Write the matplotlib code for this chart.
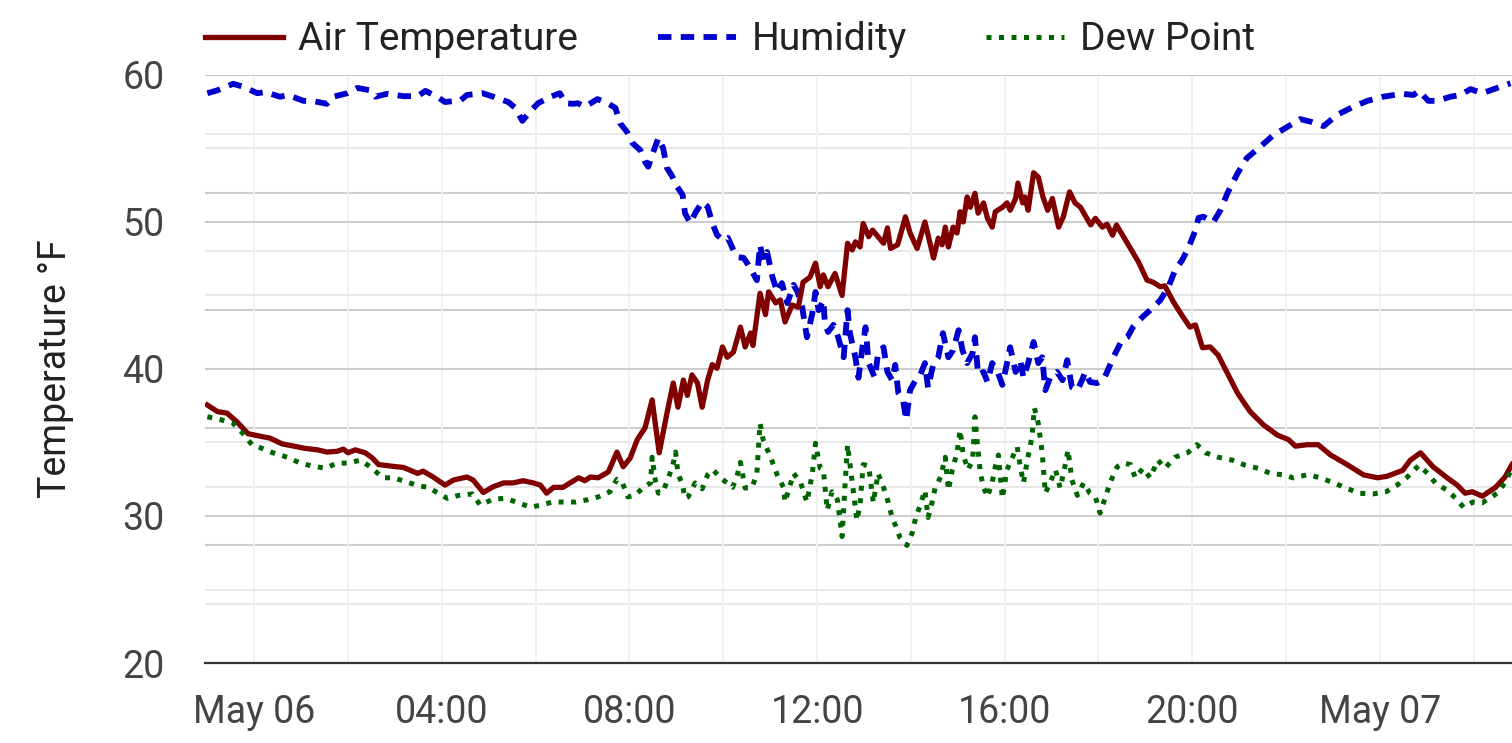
import datetime as dt
import matplotlib
matplotlib.use('Agg')
import matplotlib.pyplot as plt
import matplotlib.dates as mdates
from matplotlib.ticker import FuncFormatter, MultipleLocator

plt.rcParams['font.family'] = ['Roboto', 'DejaVu Sans']

# minutes after May 06 00:00
temp_min = [-60, -47, -35, -22, -8, 10, 20, 36, 46, 65, 81, 93, 106, 114, 120, 129, 142, 151, 159, 174,
            191, 209, 216, 229, 244, 255, 272, 280, 293, 306, 319, 331, 344, 357, 366, 374, 383, 395, 404, 415,
            423, 430, 440, 453, 464, 472, 481, 490, 500, 509, 518, 528, 536, 542, 549, 554, 560, 567, 573, 580,
            586, 592, 599, 605, 613, 622, 628, 635, 638, 647, 654, 658, 667, 673, 679, 688, 696, 702, 711, 718,
            724, 728, 734, 743, 752, 759, 765, 769, 775, 779, 786, 791, 798, 805, 810, 814, 823, 826, 833, 839,
            848, 858, 869, 875, 880, 884, 888, 894, 899, 903, 907, 912, 916, 922, 926, 933, 938, 944, 948, 957,
            963, 967, 974, 977, 983, 986, 990, 997, 1003, 1009, 1015, 1021, 1029, 1035, 1043, 1050, 1057, 1070,
            1076, 1085, 1091, 1098, 1103, 1112, 1121, 1131, 1142, 1150, 1159, 1165, 1176, 1188, 1197, 1204,
            1213, 1223, 1233, 1245, 1258, 1274, 1291, 1309, 1323, 1332, 1347, 1361, 1377, 1398, 1419, 1437,
            1449, 1469, 1479, 1492, 1508, 1526, 1539, 1549, 1558, 1571, 1588, 1600, 1609]
temp_f = [37.55, 37.1, 37.0, 36.4, 35.6, 35.4, 35.3, 34.9, 34.8, 34.6, 34.5, 34.35, 34.4, 34.55, 34.3, 34.5,
          34.3, 33.95, 33.5, 33.4, 33.3, 32.9, 33.05, 32.65, 32.1, 32.45, 32.65, 32.45, 31.6, 32.0, 32.25,
          32.25, 32.4, 32.25, 32.1, 31.55, 31.95, 31.95, 32.25, 32.6, 32.4, 32.65, 32.6, 33.0, 34.35, 33.35,
          33.95, 35.2, 36.0, 37.9, 34.3, 37.0, 39.05, 37.4, 39.25, 38.2, 39.6, 39.05, 37.4, 39.25, 40.3, 40.05,
          41.5, 40.8, 41.15, 42.85, 41.5, 42.45, 41.6, 45.15, 43.7, 45.25, 44.5, 44.7, 43.2, 44.35, 44.2, 45.9,
          46.25, 47.2, 45.6, 46.4, 45.6, 46.5, 45.0, 48.55, 48.1, 48.65, 48.3, 49.9, 49.0, 49.45, 49.0, 48.55,
          49.6, 48.2, 48.45, 49.0, 50.35, 49.25, 48.2, 50.0, 47.55, 48.9, 48.45, 49.65, 48.3, 49.65, 49.25,
          50.7, 50.0, 51.7, 51.0, 51.95, 50.6, 51.3, 50.25, 49.65, 50.7, 51.0, 51.3, 50.8, 51.6, 52.65, 51.3,
          51.7, 50.8, 53.35, 53.05, 51.7, 50.8, 51.6, 49.65, 50.35, 52.05, 51.3, 51.0, 49.8, 50.25, 49.65,
          49.85, 49.1, 49.8, 49.0, 48.2, 47.3, 46.05, 45.9, 45.6, 45.65, 44.55, 43.55, 42.85, 43.0, 41.45,
          41.5, 40.95, 39.7, 38.35, 37.1, 36.2, 35.5, 35.2, 34.75, 34.85, 34.85, 34.15, 33.5, 32.8, 32.6,
          32.7, 33.1, 33.8, 34.3, 33.35, 32.6, 32.1, 31.55, 31.65, 31.35, 31.95, 32.65, 33.5]

hum_min = [-60, -47, -27, -14, 4, 14, 33, 43, 63, 74, 93, 101, 119, 132, 148, 155, 170, 191, 209, 219,
           234, 244, 264, 272, 292, 306, 325, 334, 343, 351, 363, 379, 391, 398, 408, 414, 423, 439, 452, 462,
           468, 477, 484, 494, 500, 504, 509, 517, 523, 528, 535, 541, 548, 551, 558, 564, 573, 580, 586, 592,
           600, 606, 613, 619, 626, 632, 638, 643, 647, 651, 656, 663, 669, 675, 682, 690, 695, 701, 707, 714,
           718, 722, 728, 730, 734, 741, 747, 754, 759, 762, 769, 773, 778, 782, 786, 794, 798, 805, 810, 816,
           820, 824, 830, 834, 839, 846, 852, 858, 862, 869, 875, 881, 888, 894, 901, 906, 912, 919, 922, 926,
           933, 938, 944, 951, 957, 963, 967, 974, 980, 984, 990, 997, 1003, 1008, 1012, 1018, 1027, 1034,
           1040, 1046, 1053, 1059, 1063, 1069, 1078, 1086, 1091, 1099, 1110, 1117, 1124, 1136, 1146, 1159,
           1169, 1178, 1187, 1195, 1204, 1208, 1214, 1227, 1236, 1245, 1258, 1270, 1287, 1304, 1322, 1338,
           1353, 1368, 1385, 1406, 1424, 1444, 1468, 1483, 1490, 1502, 1513, 1530, 1543, 1556, 1571, 1590, 1607]
hum_pct = [96.9, 97.4, 98.5, 98.0, 96.9, 97.1, 96.3, 96.6, 95.6, 95.6, 95.1, 96.3, 96.9, 97.8, 97.4, 96.3,
           96.8, 96.4, 96.4, 97.3, 96.3, 95.4, 95.7, 96.6, 96.9, 96.3, 95.4, 94.4, 92.2, 93.5, 95.2, 96.3,
           96.9, 95.2, 95.1, 95.2, 94.6, 95.9, 95.2, 94.4, 91.8, 90.3, 88.4, 87.2, 85.2, 84.4, 86.4, 89.3,
           87.6, 84.2, 82.7, 81.0, 79.6, 76.5, 74.8, 76.5, 78.4, 77.6, 74.8, 72.8, 71.9, 72.3, 70.2, 69.0,
           68.9, 67.7, 66.3, 65.1, 71.1, 68.5, 69.9, 65.6, 63.1, 64.6, 61.2, 64.3, 63.1, 60.5, 55.4, 59.5,
           63.1, 60.0, 61.7, 57.8, 56.3, 57.5, 55.4, 52.0, 60.0, 56.1, 52.0, 48.5, 53.7, 57.1, 51.0, 48.5,
           52.7, 53.7, 49.5, 48.1, 50.7, 45.9, 44.7, 41.3, 46.4, 48.1, 49.0, 51.0, 46.8, 51.0, 52.0, 56.1,
           52.0, 53.2, 56.6, 53.2, 51.0, 52.7, 55.4, 49.0, 49.5, 47.8, 51.0, 49.5, 47.3, 51.0, 53.7, 49.5,
           51.5, 48.5, 51.0, 54.6, 51.0, 52.0, 46.4, 48.5, 49.5, 48.1, 51.5, 46.9, 46.4, 48.1, 49.5, 47.8,
           47.6, 48.1, 49.5, 52.0, 54.9, 55.4, 57.1, 58.8, 60.0, 61.7, 63.8, 66.8, 68.5, 70.6, 73.6, 75.7,
           75.9, 75.0, 77.0, 79.9, 83.3, 85.9, 87.8, 89.8, 91.2, 92.5, 92.0, 91.3, 93.2, 94.6, 95.6, 96.3,
           96.8, 96.6, 97.3, 95.6, 95.6, 96.3, 96.6, 97.6, 96.9, 97.8, 98.6]

dew_min = [-60, -43, -28, -15, -3, 10, 24, 42, 59, 74, 91, 106, 120, 136, 151, 164, 178, 196, 210, 223,
           235, 247, 261, 279, 289, 306, 321, 338, 353, 368, 381, 395, 411, 426, 440, 455, 464, 471, 478, 487,
           498, 507, 509, 513, 517, 523, 535, 539, 542, 548, 551, 555, 564, 573, 580, 587, 596, 605, 612, 618,
           622, 628, 637, 643, 647, 651, 658, 663, 669, 677, 679, 690, 699, 707, 714, 718, 724, 728, 733, 739,
           746, 752, 756, 759, 765, 771, 775, 779, 786, 792, 798, 805, 811, 816, 820, 826, 835, 842, 846, 852,
           858, 862, 867, 871, 878, 884, 888, 893, 899, 903, 907, 913, 919, 922, 925, 929, 933, 938, 944, 948,
           952, 957, 963, 970, 976, 980, 984, 989, 995, 998, 1003, 1008, 1012, 1018, 1025, 1031, 1038, 1041,
           1046, 1053, 1061, 1069, 1076, 1082, 1089, 1095, 1104, 1112, 1121, 1127, 1137, 1146, 1156, 1165,
           1178, 1194, 1206, 1217, 1233, 1251, 1268, 1284, 1300, 1316, 1329, 1347, 1364, 1381, 1397, 1413,
           1431, 1448, 1462, 1475, 1490, 1501, 1511, 1526, 1537, 1547, 1559, 1571, 1590, 1600, 1609]
dew_f = [36.75, 36.55, 36.35, 35.65, 34.85, 34.6, 34.3, 34.0, 33.6, 33.4, 33.25, 33.6, 33.6, 33.8, 33.25,
         32.6, 32.6, 32.3, 32.05, 31.95, 31.55, 31.2, 31.4, 31.5, 30.75, 31.15, 31.2, 30.9, 30.6, 30.75,
         30.95, 30.95, 30.95, 31.1, 31.3, 31.65, 32.5, 32.25, 31.3, 31.4, 31.95, 32.25, 34.0, 32.45, 31.55,
         31.65, 33.35, 34.35, 32.9, 32.1, 31.2, 31.3, 32.25, 31.85, 32.8, 33.15, 32.6, 32.25, 31.95, 32.8,
         33.65, 31.9, 31.95, 32.9, 36.3, 35.2, 34.3, 33.65, 32.8, 31.95, 30.95, 32.9, 32.25, 30.95, 32.9,
         34.95, 33.25, 33.15, 30.4, 31.65, 31.1, 28.6, 32.3, 34.85, 32.3, 29.7, 30.8, 33.5, 33.4, 30.9,
         32.9, 31.95, 30.95, 29.9, 29.4, 28.55, 28.0, 28.9, 29.85, 30.75, 31.75, 29.9, 30.9, 31.9, 32.65,
         34.0, 31.75, 33.15, 34.3, 35.85, 34.15, 33.15, 33.8, 36.75, 34.95, 32.9, 31.95, 31.3, 32.3, 33.35,
         34.15, 31.2, 33.15, 34.0, 34.7, 33.35, 32.25, 33.8, 35.4, 37.35, 36.3, 34.3, 31.55, 32.25, 33.15,
         31.9, 33.6, 34.5, 32.45, 31.4, 32.25, 31.55, 31.3, 30.2, 31.3, 32.3, 33.35, 33.6, 33.5, 32.6, 33.25,
         32.6, 33.8, 33.25, 34.0, 34.3, 34.85, 34.3, 34.0, 33.8, 33.45, 33.25, 32.9, 32.8, 32.6, 32.8, 32.6,
         32.25, 31.9, 31.55, 31.5, 31.65, 32.1, 32.65, 33.45, 32.9, 32.25, 31.75, 31.2, 30.6, 30.95, 30.9,
         31.55, 32.25, 33.25]

start = dt.datetime(2024, 5, 6)


def to_times(mins):
    return [start + dt.timedelta(minutes=m) for m in mins]


fig = plt.figure(figsize=(15.12, 7.43), dpi=100)
ax = fig.add_axes([205 / 1512, 1 - 663 / 743, 1 - 205 / 1512, 588 / 743])
axh = ax.twinx()  # hidden humidity scale, only its grid shows
axh.set_zorder(0)
ax.set_zorder(1)
ax.patch.set_visible(False)

axh.set_ylim(0, 100)
axh.yaxis.set_major_locator(MultipleLocator(20))
axh.yaxis.set_minor_locator(MultipleLocator(10))
axh.grid(which='major', axis='y', color='#cdcdcd', lw=1.5)
axh.grid(which='minor', axis='y', color='#e6e6e6', lw=1.3)
axh.tick_params(which='both', right=False, labelright=False)
for s in axh.spines.values():
    s.set_visible(False)

hum_line, = ax.plot(to_times(hum_min), hum_pct, color='#0000cc', lw=4.2,
                    ls=(0, (2.3, 1.6)), transform=axh.transData, label='Humidity')
temp_line, = ax.plot(to_times(temp_min), temp_f, color='#800000', lw=3.8,
                     solid_joinstyle='round', label='Air Temperature')
dew_line, = ax.plot(to_times(dew_min), dew_f, color='#006400', lw=3.6,
                    ls=(0, (1, 1.5)), label='Dew Point')

ax.set_ylim(20, 60)
ax.set_xlim(start + dt.timedelta(minutes=-63), start + dt.timedelta(minutes=1609))
ax.yaxis.set_major_locator(MultipleLocator(10))
ax.yaxis.set_minor_locator(MultipleLocator(5))
ax.xaxis.set_major_locator(mdates.HourLocator(byhour=range(0, 24, 4)))
ax.xaxis.set_minor_locator(mdates.HourLocator(byhour=range(0, 24, 2)))


def fmt(x, pos):
    d = mdates.num2date(x)
    return d.strftime('%b %d') if d.hour == 0 else d.strftime('%H:%M')


ax.xaxis.set_major_formatter(FuncFormatter(fmt))

ax.grid(which='both', axis='x', color='#f0f0f0', lw=1.3)
ax.grid(which='major', axis='y', color='#cdcdcd', lw=1.5)
ax.grid(which='minor', axis='y', color='#e6e6e6', lw=1.3)

ax.tick_params(which='both', length=0, labelsize=27, labelcolor='#444444')
ax.tick_params(axis='x', pad=22)
ax.tick_params(axis='y', pad=29)

for side in ['top', 'left', 'right']:
    ax.spines[side].set_visible(False)
ax.spines['bottom'].set_color('#333333')
ax.spines['bottom'].set_linewidth(1.6)

ax.set_ylabel('Temperature °F', fontsize=27, color='#222222')
ax.yaxis.set_label_coords(-0.100, 0.5)

leg = ax.legend(handles=[temp_line, hum_line, dew_line], loc='center left',
                bbox_to_anchor=(205 / 1512, 1 - 40 / 743), bbox_transform=fig.transFigure,
                ncol=3, frameon=False, fontsize=28, handlelength=2.0, handletextpad=0.4,
                columnspacing=2.05, borderpad=0, borderaxespad=0)
for t in leg.get_texts():
    t.set_color('#222222')

fig.savefig('out.png', dpi=100)
